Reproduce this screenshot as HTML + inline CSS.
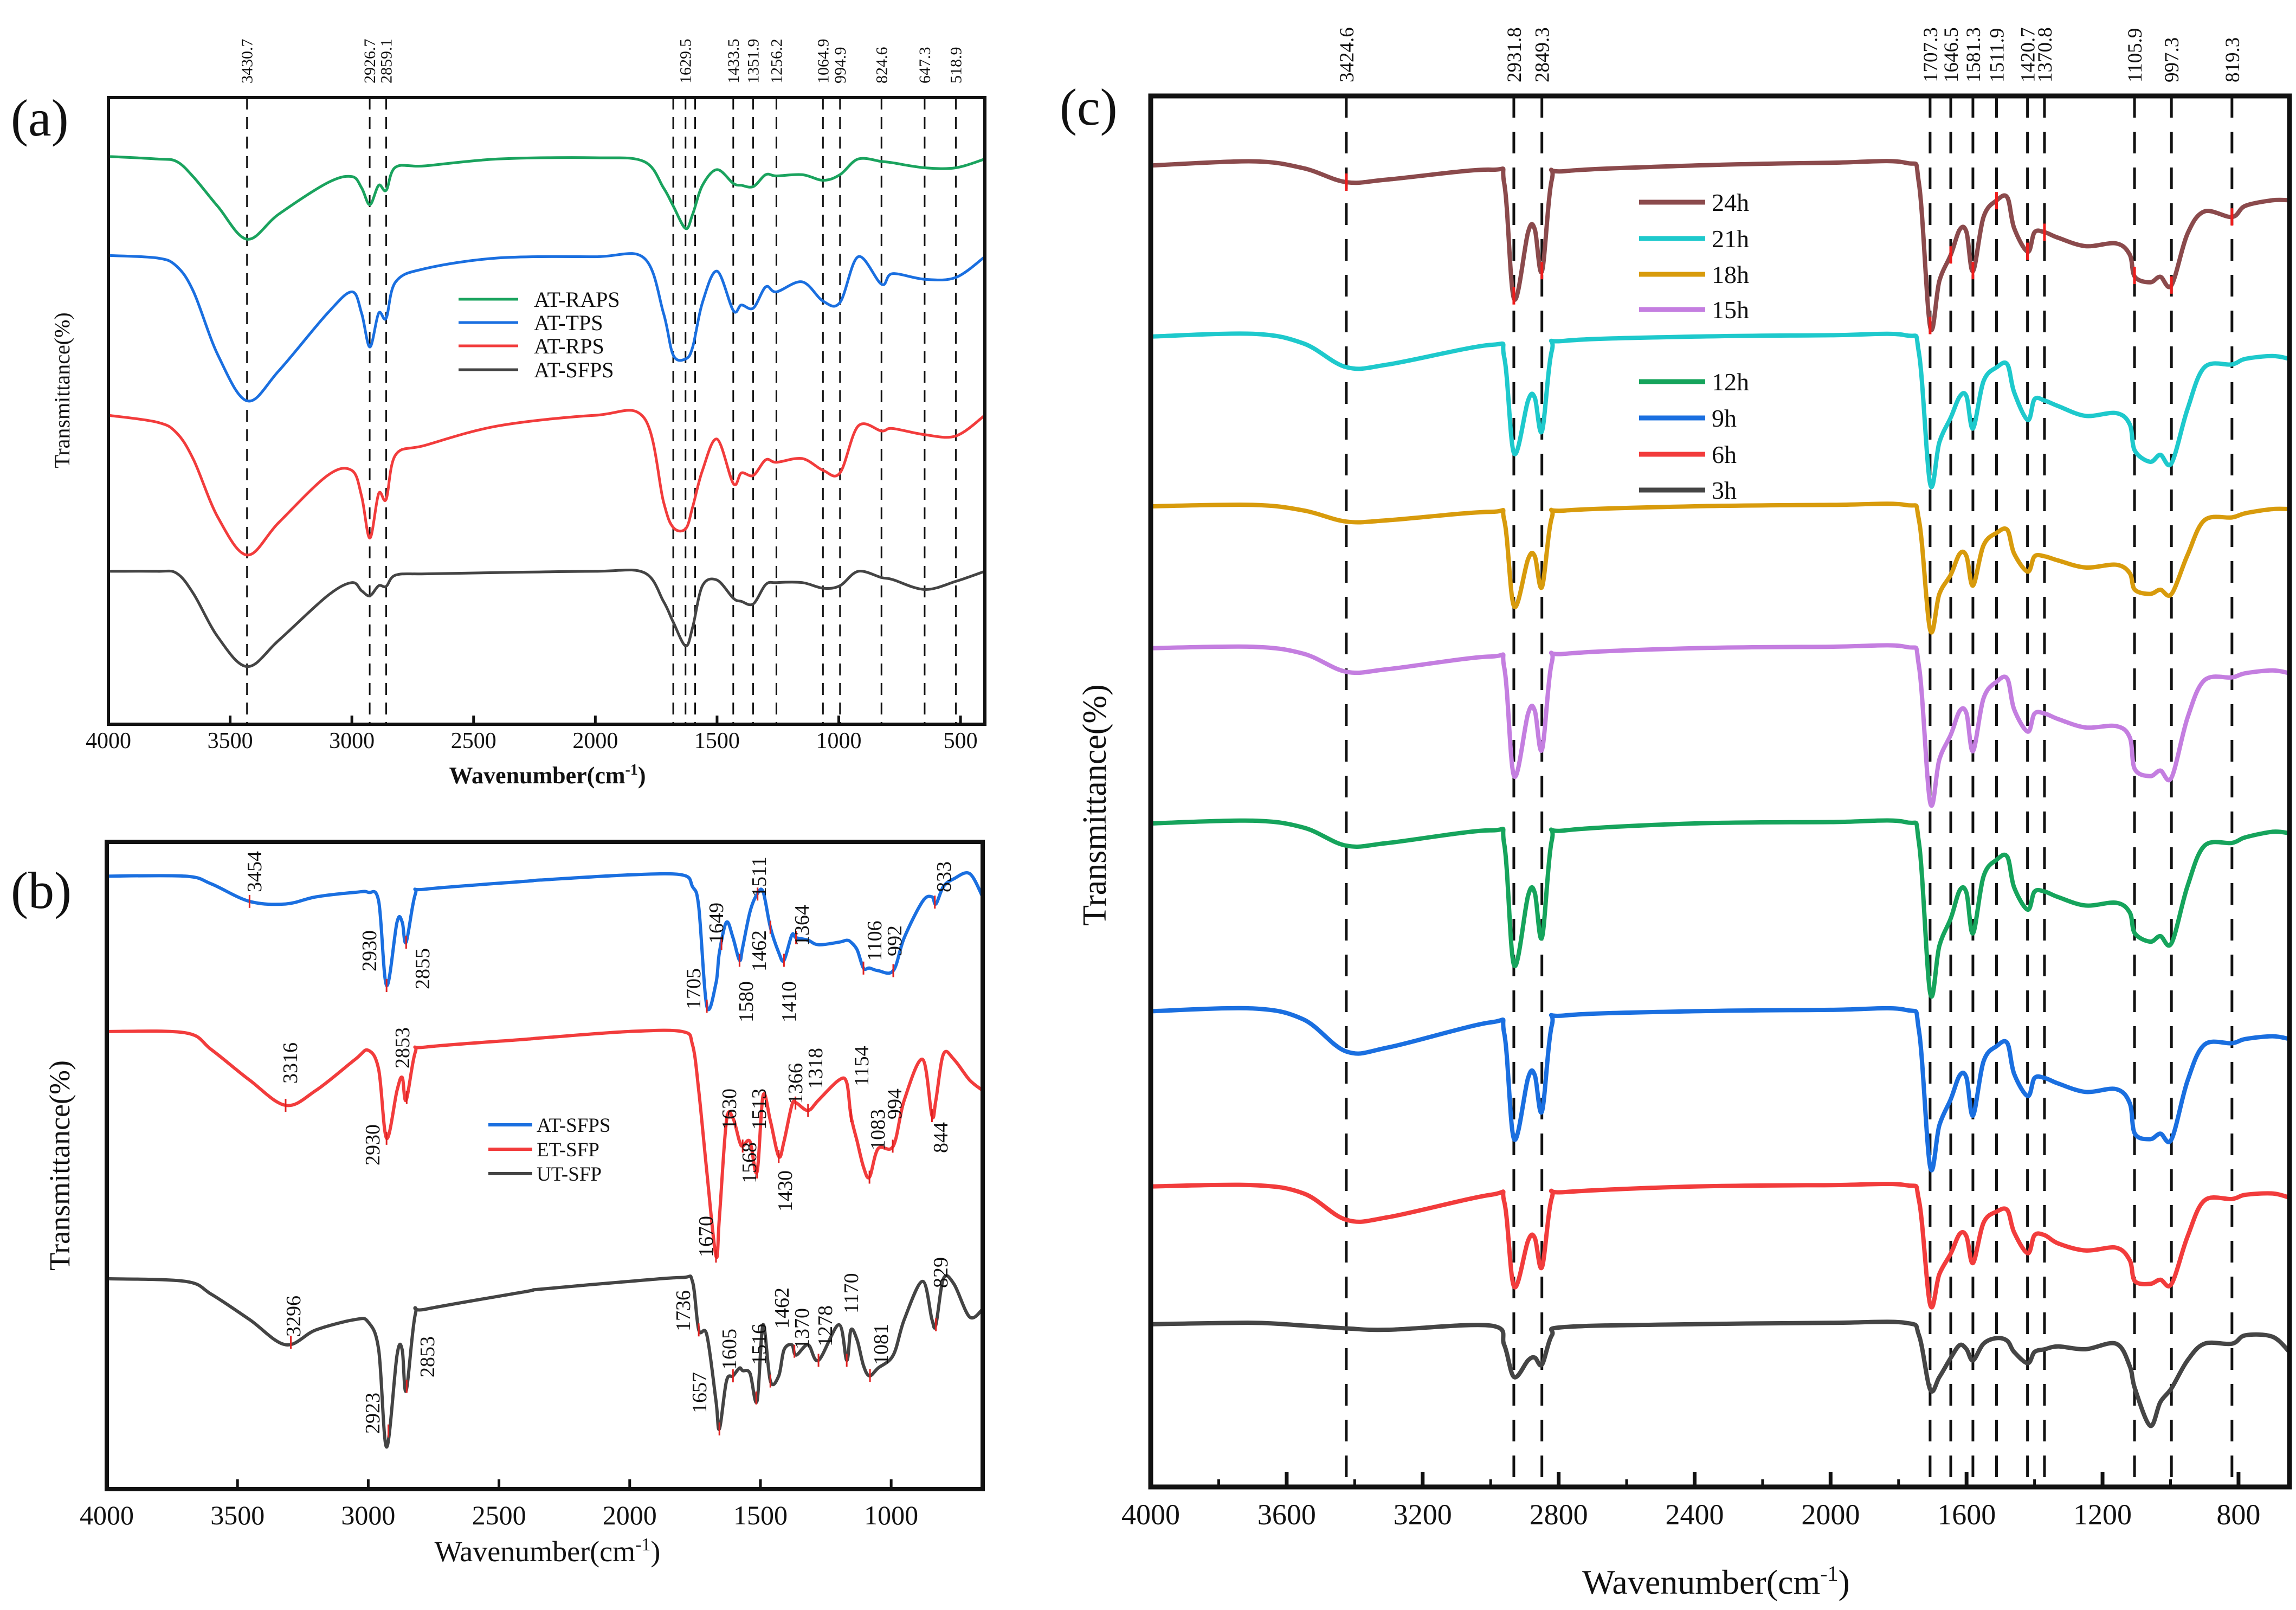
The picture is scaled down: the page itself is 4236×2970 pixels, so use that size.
<!DOCTYPE html>
<html><head><meta charset="utf-8"><style>
html,body{margin:0;padding:0;background:#fff}
svg{display:block}
text{font-family:"Liberation Serif","DejaVu Serif",serif;fill:#111}
</style></head><body>
<svg id="fig" width="4236" height="2970" viewBox="0 0 4236 2970" xmlns="http://www.w3.org/2000/svg">
<rect width="4236" height="2970" fill="#fff"/>
<g id="pa"></g>
<g id="pb"></g>
<g id="pc"></g>
</svg>
<script>
// ---------- Panel (a) data ----------
const wnA = [4000,3800,3720,3650,3550,3430,3300,3100,3000,2960,2926,2890,2859,2820,2700,2400,2000,1800,1720,1680,1629,1600,1560,1500,1433,1400,1351,1300,1256,1150,1064,995,920,824,780,647,519,400];
const namesA = ["AT-RAPS","AT-TPS","AT-RPS","AT-SFPS"];
const colorsA = ["#1aa35e","#1a6fe0","#f23c3c","#444444"];
const offsetsA = [90.6,74.8,49.3,24.4];
const atRAPS = [0,-0.4,-0.8,-3.3,-8.0,-13.2,-9.2,-4.2,-3.2,-5.0,-7.7,-4.6,-5.4,-1.7,-1.5,-0.4,-0.2,-0.8,-5.0,-7.9,-11.5,-9.2,-4.6,-2.1,-4.3,-4.6,-4.8,-2.9,-3.1,-2.9,-3.8,-2.9,-0.4,-0.8,-1.0,-1.8,-1.8,-0.4];
const atTPS = [0,-0.4,-1.7,-5.8,-15.9,-23.2,-18.4,-9.2,-5.8,-9.2,-14.6,-9.2,-10.0,-4.2,-2.1,-0.4,-0.2,-0.4,-9.2,-15.9,-16.5,-14.6,-7.5,-2.5,-8.8,-7.9,-8.4,-5.0,-5.8,-4.2,-7.3,-7.5,-0.2,-4.6,-2.9,-3.8,-3.5,-0.2];
const atRPS = [0,-1.1,-2.8,-7.1,-16.3,-22.3,-17.1,-9.6,-8.8,-12.9,-19.6,-12.5,-13.4,-6.3,-4.8,-1.7,0,-0.4,-13.8,-17.9,-18.1,-14.6,-8.8,-3.8,-10.9,-9.2,-9.6,-7.1,-7.5,-6.9,-8.8,-9.2,-1.7,-2.5,-2.1,-3.1,-3.3,0];
const atSFPSa = [0,0,-0.3,-3.6,-10.5,-15.2,-11.0,-3.9,-1.8,-3.1,-3.9,-2.3,-2.4,-0.6,-0.4,-0.2,0,-0.2,-4.8,-8.1,-11.9,-8.9,-2.3,-1.4,-4.3,-4.8,-5.2,-2.1,-1.8,-1.8,-2.7,-2.3,0,-1.0,-1.3,-2.9,-1.6,0];
const peaksA = [3430.7,2926.7,2859.1,1680,1629.5,1590,1433.5,1351.9,1256.2,1064.9,994.9,824.6,647.3,518.9];
const peakLabelsA = ["3430.7","2926.7","2859.1","","1629.5","","1433.5","1351.9","1256.2","1064.9","994.9","824.6","647.3","518.9"];
const ticksA = [4000,3500,3000,2500,2000,1500,1000,500];

// ---------- Panel (b) data ----------
const wnB = [4000,3700,3600,3454,3316,3200,3050,3000,2960,2930,2890,2870,2855,2820,2780,2400,2340,2000,1800,1760,1736,1705,1670,1657,1630,1605,1580,1568,1540,1513,1490,1462,1430,1410,1380,1364,1318,1278,1200,1170,1154,1130,1106,1083,1050,992,950,880,844,829,800,760,700,650];
const namesB = ["AT-SFPS","ET-SFP","UT-SFP"];
const colorsB = ["#1a6fe0","#f23c3c","#444444"];
const offsetsB = [94.7,70.7,32.5];
const atSFPSb = [0,0,-1.2,-3.9,-4.3,-3.2,-2.5,-2.5,-3.9,-16.9,-7.1,-7.1,-10.2,-2.8,-2.0,-0.8,-0.6,0.2,0.2,-1.6,-4.7,-20.1,-16.5,-11.8,-7.1,-9.5,-13.0,-11.0,-5.5,-2.8,-2.4,-7.9,-11.8,-13.0,-9.1,-9.5,-9.9,-10.6,-10.2,-9.9,-10.2,-11.4,-14.2,-14.2,-14.6,-14.6,-9.5,-3.9,-3.2,-4.3,-1.6,-0.4,0.4,-3.2];
const etSFP = [0,-0.2,-2.8,-7.5,-11.4,-9.1,-4.3,-2.9,-5.9,-16.5,-9.1,-7.1,-10.6,-3.2,-2.4,-1.2,-1.0,0,0,-2.0,-9.1,-21.7,-34.7,-28.8,-13.8,-13.4,-17.0,-17.7,-17.0,-21.7,-9.9,-13.8,-19.3,-17.0,-11.4,-11.0,-12.2,-10.6,-7.5,-7.9,-13.0,-17.0,-20.9,-22.5,-18.1,-17.7,-10.6,-4.3,-13.0,-10.6,-3.5,-4.3,-7.5,-9.1];
const utSFP = [0,-0.4,-2.4,-6.3,-10.2,-7.9,-6.3,-6.7,-11.0,-26.0,-11.8,-11.0,-17.3,-5.5,-4.7,-2.0,-1.6,-0.4,0.2,-0.4,-7.9,-8.7,-18.9,-23.2,-15.8,-15.0,-13.8,-14.2,-14.6,-18.9,-7.1,-15.8,-15.0,-11.0,-10.2,-11.8,-10.2,-12.6,-7.1,-12.6,-7.9,-9.5,-13.4,-15.0,-13.8,-11.8,-6.3,-0.4,-6.3,-7.1,0,-0.8,-5.9,-4.7];
const annTextB = ["3454","2930","2855","1705","1649","1580","1462","1511","1410","1364","1106","992","833",
 "3316","2930","2853","1670","1630","1568","1513","1430","1366","1318","1154","1083","994","844",
 "3296","2923","2853","1736","1657","1605","1516","1462","1370","1278","1170","1081","829"];
const annSeriesB = [0,0,0,0,0,0,0,0,0,0,0,0,0, 1,1,1,1,1,1,1,1,1,1,1,1,1,1, 2,2,2,2,2,2,2,2,2,2,2,2,2];
const annWnB = [3454,2930,2855,1705,1649,1580,1462,1511,1410,1364,1106,992,833,
 3316,2930,2853,1670,1630,1568,1513,1430,1366,1318,1154,1083,994,844,
 3296,2923,2853,1736,1657,1605,1516,1462,1370,1278,1170,1081,829];
const annPosB = [[470,1646],[682,1792],[780,1825],[1280,1862],[1322,1741],[1377,1886],[1401,1792],[1401,1655],[1456,1886],[1480,1745],[1614,1773],[1651,1764],[1742,1646],
 [536,1999],[688,2150],[743,1971],[1303,2319],[1346,2084],[1383,2183],[1401,2084],[1449,2235],[1468,2037],[1505,2009],[1590,2004],[1620,2122],[1651,2065],[1736,2127],
 [542,2466],[688,2645],[789,2541],[1261,2456],[1291,2607],[1346,2527],[1401,2518],[1443,2451],[1480,2489],[1523,2484],[1571,2423],[1626,2518],[1736,2376]];
const ticksB = [4000,3500,3000,2500,2000,1500,1000];

// ---------- Panel (c) data ----------
const wnC = [4000,3700,3550,3424,3300,3000,2960,2931,2890,2870,2849,2820,2780,2400,2000,1780,1740,1707,1680,1646,1620,1600,1581,1550,1511,1480,1460,1420,1400,1370,1330,1250,1160,1120,1105,1060,1030,997,950,900,819,780,700,650];
const namesC = ["24h","21h","18h","15h","12h","9h","6h","3h"];
const colorsC = ["#8b4a4c","#1ec9cc","#d89b0c","#c47ee0","#16a45c","#1a6fe0","#f23c3c","#454545"];
const offsetsC = [95.0,82.7,70.5,60.3,47.7,34.2,21.6,11.7];
const h24 = [0,0.3,-0.2,-1.2,-1.0,-0.3,-1.3,-9.6,-4.8,-4.6,-7.6,-1.0,-0.4,0,0.2,0.2,-1.3,-11.6,-8.3,-6.4,-4.6,-4.8,-7.6,-3.7,-2.5,-2.3,-4.5,-6.2,-4.8,-4.8,-5.2,-5.8,-5.6,-6.4,-8.0,-8.4,-8.0,-8.6,-4.9,-3.3,-3.7,-2.9,-2.5,-2.5];
const h21 = [0,0.2,-0.5,-2.2,-2.0,-0.6,-1.5,-8.4,-4.6,-4.4,-6.8,-1.0,-0.3,0,0.1,0.1,-1.2,-10.6,-7.6,-5.8,-4.3,-4.3,-6.6,-3.2,-2.2,-2.0,-4.0,-6.0,-4.5,-4.6,-5.0,-5.7,-5.5,-6.3,-8.2,-9.0,-8.5,-9.1,-5.2,-2.2,-2.0,-1.6,-1.4,-1.6];
const h18 = [0,0.1,-0.3,-1.1,-1.0,-0.4,-1.0,-7.2,-3.8,-3.6,-5.8,-0.8,-0.3,0,0.1,0.1,-1.0,-8.9,-6.3,-4.9,-3.4,-3.6,-5.7,-2.8,-1.9,-1.7,-3.4,-4.7,-3.6,-3.6,-3.9,-4.4,-4.2,-4.8,-6.0,-6.3,-6.0,-6.3,-3.5,-1.0,-0.8,-0.5,-0.2,-0.2];
const h15 = [0,0.1,-0.4,-1.7,-1.5,-0.6,-1.4,-9.2,-4.7,-4.5,-7.3,-1.0,-0.4,0,0.1,0.1,-1.3,-11.1,-8.0,-6.2,-4.5,-4.7,-7.4,-3.6,-2.4,-2.2,-4.4,-6.0,-4.7,-4.7,-5.1,-5.7,-5.6,-6.4,-8.7,-9.2,-8.8,-9.3,-5.0,-2.3,-2.1,-1.8,-1.6,-1.8];
const h12 = [0,0.2,-0.3,-1.6,-1.4,-0.5,-1.5,-10.2,-5.2,-5.0,-8.2,-1.2,-0.5,0,0.1,0.1,-1.4,-12.2,-8.8,-6.8,-4.8,-5.0,-7.9,-3.8,-2.6,-2.4,-4.6,-6.2,-4.9,-4.9,-5.3,-5.9,-5.7,-6.4,-7.9,-8.5,-8.1,-8.6,-4.5,-1.6,-1.4,-1.0,-0.6,-0.7];
const h9 = [0,0.2,-0.6,-2.9,-2.6,-0.8,-1.6,-9.2,-4.8,-4.6,-7.2,-1.0,-0.3,0,0.1,0.1,-1.4,-11.2,-8.2,-6.3,-4.6,-4.8,-7.5,-3.6,-2.5,-2.3,-4.5,-6.1,-4.8,-4.8,-5.2,-5.8,-5.6,-6.6,-8.8,-9.2,-8.8,-9.2,-5.0,-2.4,-2.3,-2.0,-1.8,-2.0];
const h6 = [0,0.1,-0.5,-2.4,-2.2,-0.6,-1.1,-7.2,-3.9,-3.7,-5.8,-0.8,-0.4,0,0.1,0.1,-1.0,-8.5,-6.3,-4.8,-3.4,-3.6,-5.5,-2.6,-1.8,-1.7,-3.3,-4.8,-3.5,-3.5,-4.1,-4.6,-4.4,-5.3,-6.8,-7.0,-6.7,-7.0,-3.6,-1.0,-0.9,-0.6,-0.5,-0.8];
const h3 = [0,0.1,-0.1,-0.3,-0.4,-0.1,-1.5,-3.8,-2.6,-2.4,-2.9,-0.8,-0.2,0,0.1,0.1,-0.8,-4.7,-3.8,-2.4,-1.5,-1.8,-2.6,-1.4,-1.0,-1.2,-2.0,-2.8,-2.0,-1.8,-1.6,-1.8,-1.4,-3.0,-4.6,-7.3,-5.6,-4.6,-2.6,-1.4,-1.4,-0.8,-0.9,-2.0];
const peaksC = [3424.6,2931.8,2849.3,1707.3,1646.5,1581.3,1511.9,1420.7,1370.8,1105.9,997.3,819.3];
const ticksC = [4000,3600,3200,2800,2400,2000,1600,1200,800];

// ---------- helpers ----------
const NS = "http://www.w3.org/2000/svg";
function mk(parent, tag, attrs, txt){
  const e = document.createElementNS(NS, tag);
  for (const k in attrs) e.setAttribute(k, attrs[k]);
  if (txt !== undefined) e.textContent = txt;
  parent.appendChild(e);
  return e;
}
function pathFrom(pts){
  let d = "M" + pts[0][0].toFixed(1) + "," + pts[0][1].toFixed(1);
  for (let i = 0; i < pts.length - 1; i++){
    const p0 = pts[Math.max(0,i-1)], p1 = pts[i], p2 = pts[i+1], p3 = pts[Math.min(pts.length-1,i+2)];
    const c1x = p1[0] + (p2[0]-p0[0])/6, c1y = p1[1] + (p2[1]-p0[1])/6;
    const c2x = p2[0] - (p3[0]-p1[0])/6, c2y = p2[1] - (p3[1]-p1[1])/6;
    d += "C" + c1x.toFixed(1) + "," + c1y.toFixed(1) + " " + c2x.toFixed(1) + "," + c2y.toFixed(1) + " " + p2[0].toFixed(1) + "," + p2[1].toFixed(1);
  }
  return d;
}
function interp(grid, vals, w){
  let i = 0; while (i < grid.length-2 && grid[i+1] > w) i++;
  const f = (grid[i]-w)/(grid[i]-grid[i+1]);
  return vals[i] + f*(vals[i+1]-vals[i]);
}
function axis(x0,x1,w0,w1,y0,y1){
  return {
    x: w => x0 + (w0 - w)/(w0 - w1)*(x1 - x0),
    y: v => y0 + (100 - v)/100*(y1 - y0),
    x0, x1, y0, y1
  };
}

// ================= Panel A =================
(function(){
  const g = document.getElementById("pa");
  const A = axis(200,1817,4000,400,180,1336);
  peaksA.forEach((p,i)=>{
    const l = mk(g,"line",{x1:A.x(p),x2:A.x(p),y1:A.y0,y2:A.y1,stroke:"#111","stroke-width":3,"stroke-dasharray":"22,14"});
    
    
    if (peakLabelsA[i]){
      const t = mk(g,"text",{x:0,y:0,transform:"translate("+(A.x(p)+10)+",154) rotate(-90)","font-size":30},peakLabelsA[i]);
      
      
    }
  });
  const series = [atRAPS,atTPS,atRPS,atSFPSa];
  series.forEach((s,k)=>{
    const pts = wnA.map((w,i)=>[A.x(w), A.y(offsetsA[k] + s[i])]);
    const p = mk(g,"path",{d:pathFrom(pts),fill:"none",stroke:colorsA[k],"stroke-width":5,"stroke-linejoin":"round"});
    
    
  });
  const box = mk(g,"rect",{x:A.x0,y:A.y0,width:A.x1-A.x0,height:A.y1-A.y0,fill:"none",stroke:"#111","stroke-width":6});
  
  
  ticksA.forEach(t=>{
    mk(g,"line",{x1:A.x(t),x2:A.x(t),y1:A.y1,y2:A.y1-16,stroke:"#111","stroke-width":5});
    const tl = mk(g,"text",{x:A.x(t),y:1380,"text-anchor":"middle","font-size":42},String(t));
    
    
  });
  const xt = mk(g,"text",{x:1010,y:1445,"text-anchor":"middle","font-size":44,"font-weight":"bold"});
  xt.innerHTML = 'Wavenumber(cm<tspan dy="-16" font-size="28">-1</tspan><tspan dy="16">)</tspan>';
  
  
  const yt = mk(g,"text",{x:0,y:0,transform:"translate(128,720) rotate(-90)","text-anchor":"middle","font-size":40},"Transmittance(%)");
  
  
  const pl = mk(g,"text",{x:20,y:250,"font-size":96},"(a)");
  
  
  const legY = [552,595,638,682];
  namesA.forEach((n,k)=>{
    const lg = mk(g,"g",{});
    
    
    mk(lg,"line",{x1:846,x2:956,y1:legY[k],y2:legY[k],stroke:colorsA[k],"stroke-width":5});
    mk(lg,"text",{x:985,y:legY[k]+14,"font-size":40},n);
  });
})();

// ================= Panel B =================
(function(){
  const g = document.getElementById("pb");
  const B = axis(197,1813,4000,650,1553,2747);
  const series = [atSFPSb,etSFP,utSFP];
  series.forEach((s,k)=>{
    const pts = wnB.map((w,i)=>[B.x(w), B.y(offsetsB[k] + s[i])]);
    const p = mk(g,"path",{d:pathFrom(pts),fill:"none",stroke:colorsB[k],"stroke-width":6,"stroke-linejoin":"round"});
    
    
  });
  annTextB.forEach((t,i)=>{
    const k = annSeriesB[i];
    const yv = B.y(offsetsB[k] + interp(wnB, series[k], annWnB[i]));
    const tk = mk(g,"line",{x1:B.x(annWnB[i]),x2:B.x(annWnB[i]),y1:yv-12,y2:yv+12,stroke:"#e02020","stroke-width":3});
    
    
    const tx = mk(g,"text",{x:0,y:0,transform:"translate("+(annPosB[i][0]+12)+","+annPosB[i][1]+") rotate(-90)","font-size":38},t);
    
    
  });
  const box = mk(g,"rect",{x:B.x0,y:B.y0,width:B.x1-B.x0,height:B.y1-B.y0,fill:"none",stroke:"#111","stroke-width":8});
  
  
  ticksB.forEach(t=>{
    mk(g,"line",{x1:B.x(t),x2:B.x(t),y1:B.y1,y2:B.y1-18,stroke:"#111","stroke-width":5});
    const tl = mk(g,"text",{x:B.x(t),y:2812,"text-anchor":"middle","font-size":50},String(t));
    
    
  });
  const xt = mk(g,"text",{x:1010,y:2880,"text-anchor":"middle","font-size":54});
  xt.innerHTML = 'Wavenumber(cm<tspan dy="-20" font-size="34">-1</tspan><tspan dy="20">)</tspan>';
  
  
  const yt = mk(g,"text",{x:0,y:0,transform:"translate(128,2150) rotate(-90)","text-anchor":"middle","font-size":54},"Transmittance(%)");
  
  
  const pl = mk(g,"text",{x:20,y:1675,"font-size":96},"(b)");
  
  
  const legY = [2075,2120,2165];
  namesB.forEach((n,k)=>{
    const lg = mk(g,"g",{});
    
    
    mk(lg,"line",{x1:901,x2:982,y1:legY[k],y2:legY[k],stroke:colorsB[k],"stroke-width":6});
    mk(lg,"text",{x:990,y:legY[k]+13,"font-size":37},n);
  });
})();

// ================= Panel C =================
(function(){
  const g = document.getElementById("pc");
  const C = axis(2123,4224,4000,650,177,2743);
  peaksC.forEach(p=>{
    const l = mk(g,"line",{x1:C.x(p),x2:C.x(p),y1:C.y0,y2:C.y1,stroke:"#111","stroke-width":5,"stroke-dasharray":"40,26"});
    
    
    const t = mk(g,"text",{x:0,y:0,transform:"translate("+(C.x(p)+13)+",152) rotate(-90)","font-size":37},String(p));
    
    
  });
  const series = [h24,h21,h18,h15,h12,h9,h6,h3];
  series.forEach((s,k)=>{
    const pts = wnC.map((w,i)=>[C.x(w), C.y(offsetsC[k] + s[i])]);
    const p = mk(g,"path",{d:pathFrom(pts),fill:"none",stroke:colorsC[k],"stroke-width":8,"stroke-linejoin":"round"});
    
    
  });
  peaksC.forEach(p=>{
    const v = offsetsC[0] + interp(wnC, h24, p);
    const m = mk(g,"line",{x1:C.x(p),x2:C.x(p),y1:C.y(v)-16,y2:C.y(v)+16,stroke:"#ee1c1c","stroke-width":5});
    
    
  });
  const box = mk(g,"rect",{x:C.x0,y:C.y0,width:C.x1-C.x0,height:C.y1-C.y0,fill:"none",stroke:"#111","stroke-width":9});
  
  
  ticksC.forEach(t=>{
    mk(g,"line",{x1:C.x(t),x2:C.x(t),y1:C.y1,y2:C.y1-28,stroke:"#111","stroke-width":7});
    mk(g,"line",{x1:C.x(t-200),x2:C.x(t-200),y1:C.y1,y2:C.y1-14,stroke:"#111","stroke-width":5});
    const tl = mk(g,"text",{x:C.x(t),y:2812,"text-anchor":"middle","font-size":54},String(t));
    
    
  });
  const xt = mk(g,"text",{x:3166,y:2940,"text-anchor":"middle","font-size":64});
  xt.innerHTML = 'Wavenumber(cm<tspan dy="-24" font-size="40">-1</tspan><tspan dy="24">)</tspan>';
  
  
  const yt = mk(g,"text",{x:0,y:0,transform:"translate(2040,1485) rotate(-90)","text-anchor":"middle","font-size":62},"Transmittance(%)");
  
  
  const pl = mk(g,"text",{x:1955,y:230,"font-size":96},"(c)");
  
  
  const legY = [373,440,506,571,704,771,838,904];
  namesC.forEach((n,k)=>{
    const lg = mk(g,"g",{});
    
    
    mk(lg,"line",{x1:3024,x2:3146,y1:legY[k],y2:legY[k],stroke:colorsC[k],"stroke-width":9});
    mk(lg,"text",{x:3158,y:legY[k]+16,"font-size":46},n);
  });
})();
</script>
</body></html>
